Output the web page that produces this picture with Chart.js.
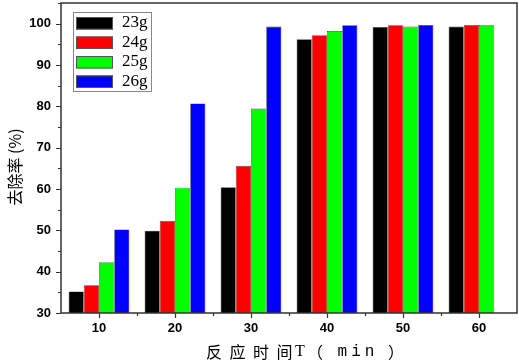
<!DOCTYPE html>
<html>
<head>
<meta charset="utf-8">
<script src="https://cdn.jsdelivr.net/npm/chart.js@4.4.1/dist/chart.umd.min.js"></script>
<style>
  html, body { margin: 0; padding: 0; background: #fff; }
  #wrap { width: 519px; height: 362px; }
</style>
</head>
<body>
<div id="wrap"><canvas id="removalchart" width="519" height="362"></canvas></div>
<script>
const timeLabels = ['10', '20', '30', '40', '50', '60'];
const seriesNames = ['23g', '24g', '25g', '26g'];
const values23g = [35.2, 49.9, 60.4, 96.2, 99.2, 99.3];
const values24g = [36.7, 52.3, 65.6, 97.2, 99.6, 99.7];
const values25g = [42.3, 60.3, 79.5, 98.2, 99.3, 99.7];
const values26g = [50.2, 80.7, 99.3, 99.6, 99.7, null];
const yTicks = [30, 40, 50, 60, 70, 80, 90, 100];
// x title is drawn piece by piece to get the wide spacing of the original
const xTitleParts = ['反', '应', '时', '间', 'T', '（', 'min', '）'];
const yTitle = '去除率 (%)';

const barColors = ['#000000', '#ff0000', '#00ff00', '#0000ff'];
const seriesValues = [values23g, values24g, values25g, values26g];

const cjkFont = '16px "Noto Sans CJK SC", sans-serif';
const monoFont = '16px "Liberation Mono", "Courier New", monospace';
const serifFont = '16px "Liberation Serif", "Times New Roman", serif';

// axis frame, outward ticks (major + minor), axis titles and legend box
const originStyle = {
    id: 'originStyle',
    afterDraw(chart) {
        const ctx = chart.ctx;
        const area = chart.chartArea;
        const xs = chart.scales.x;
        const ys = chart.scales.y;
        ctx.save();
        ctx.strokeStyle = '#333';
        ctx.lineWidth = 1.5;
        ctx.strokeRect(area.left, area.top, area.right - area.left, area.bottom - area.top);

        ctx.lineWidth = 1.2;
        ctx.beginPath();
        for (let v = 30; v <= 105; v += 5) {
            const y = Math.round(ys.getPixelForValue(v)) + 0.5;
            const len = v % 10 === 0 ? 5 : 3;
            ctx.moveTo(area.left, y);
            ctx.lineTo(area.left - len, y);
        }
        for (let i = 0; i < timeLabels.length; i++) {
            const x = Math.round(xs.getPixelForValue(i)) + 0.5;
            ctx.moveTo(x, area.bottom);
            ctx.lineTo(x, area.bottom + 5);
            if (i < timeLabels.length - 1) {
                const xm = Math.round((xs.getPixelForValue(i) + xs.getPixelForValue(i + 1)) / 2) + 0.5;
                ctx.moveTo(xm, area.bottom);
                ctx.lineTo(xm, area.bottom + 3);
            }
        }
        ctx.stroke();

        // axis titles
        ctx.fillStyle = '#000';
        ctx.textAlign = 'center';
        ctx.textBaseline = 'middle';
        const partX = [214, 237.5, 261, 284.5, 300, 315, 358, 396];
        const partFont = [cjkFont, cjkFont, cjkFont, cjkFont, serifFont, cjkFont, monoFont, cjkFont];
        xTitleParts.forEach((p, i) => {
            ctx.font = partFont[i];
            ctx.letterSpacing = p === 'min' ? '4px' : '0px';
            ctx.fillText(p, partX[i], 352);
        });
        ctx.letterSpacing = '0px';
        ctx.save();
        ctx.font = cjkFont;
        ctx.translate(15, 167);
        ctx.rotate(-Math.PI / 2);
        ctx.fillText(yTitle, 0, 0);
        ctx.restore();

        // legend
        const lx = 73, ly = 12, lw = 78, lh = 79;
        ctx.textAlign = 'left';
        ctx.fillStyle = '#fff';
        ctx.fillRect(lx, ly, lw, lh);
        ctx.strokeStyle = '#888';
        ctx.lineWidth = 1;
        ctx.strokeRect(lx + 0.5, ly + 0.5, lw, lh);
        ctx.font = '17px "Liberation Serif", "Times New Roman", serif';
        chart.data.datasets.forEach((ds, i) => {
            const cy = 23 + i * 19.5;
            ctx.fillStyle = ds.backgroundColor;
            ctx.fillRect(76, cy - 6, 37, 12.5);
            ctx.strokeStyle = '#555';
            ctx.strokeRect(76.5, cy - 5.5, 36, 11.5);
            ctx.fillStyle = '#000';
            ctx.fillText(ds.label, 122, cy);
        });
        ctx.restore();
    }
};

const ctx = document.getElementById('removalchart').getContext('2d');

const removalChart = new Chart(ctx, {
    type: 'bar',
    data: {
        labels: timeLabels,
        datasets: seriesNames.map((name, i) => ({
            label: name,
            data: seriesValues[i],
            backgroundColor: barColors[i],
            borderColor: '#444',
            borderWidth: 0.6,
            categoryPercentage: 0.8,
            barPercentage: 1.0
        }))
    },
    options: {
        responsive: false,
        animation: false,
        layout: { padding: { top: 3, right: 2, left: 0, bottom: 0 } },
        plugins: {
            legend: { display: false },
            tooltip: { enabled: false }
        },
        scales: {
            x: {
                grid: { display: false, drawTicks: false },
                border: { display: false },
                ticks: {
                    color: '#000',
                    padding: 8,
                    font: { family: 'Arial, "Liberation Sans", sans-serif', size: 13, weight: 'bold' }
                },
                afterFit(scale) {
                    scale.height = 49;
                    scale.paddingLeft = 0;
                    scale.paddingRight = 0;
                }
            },
            y: {
                min: 30,
                max: 105,
                grid: { display: false, drawTicks: false },
                border: { display: false },
                afterBuildTicks(scale) {
                    scale.ticks = yTicks.map(v => ({ value: v }));
                },
                ticks: {
                    color: '#000',
                    padding: 10,
                    font: { family: 'Arial, "Liberation Sans", sans-serif', size: 13, weight: 'bold' }
                },
                afterFit(scale) {
                    scale.width = 61;
                    scale.paddingTop = 0;
                    scale.paddingBottom = 0;
                }
            }
        }
    },
    plugins: [originStyle]
});
</script>
</body>
</html>
